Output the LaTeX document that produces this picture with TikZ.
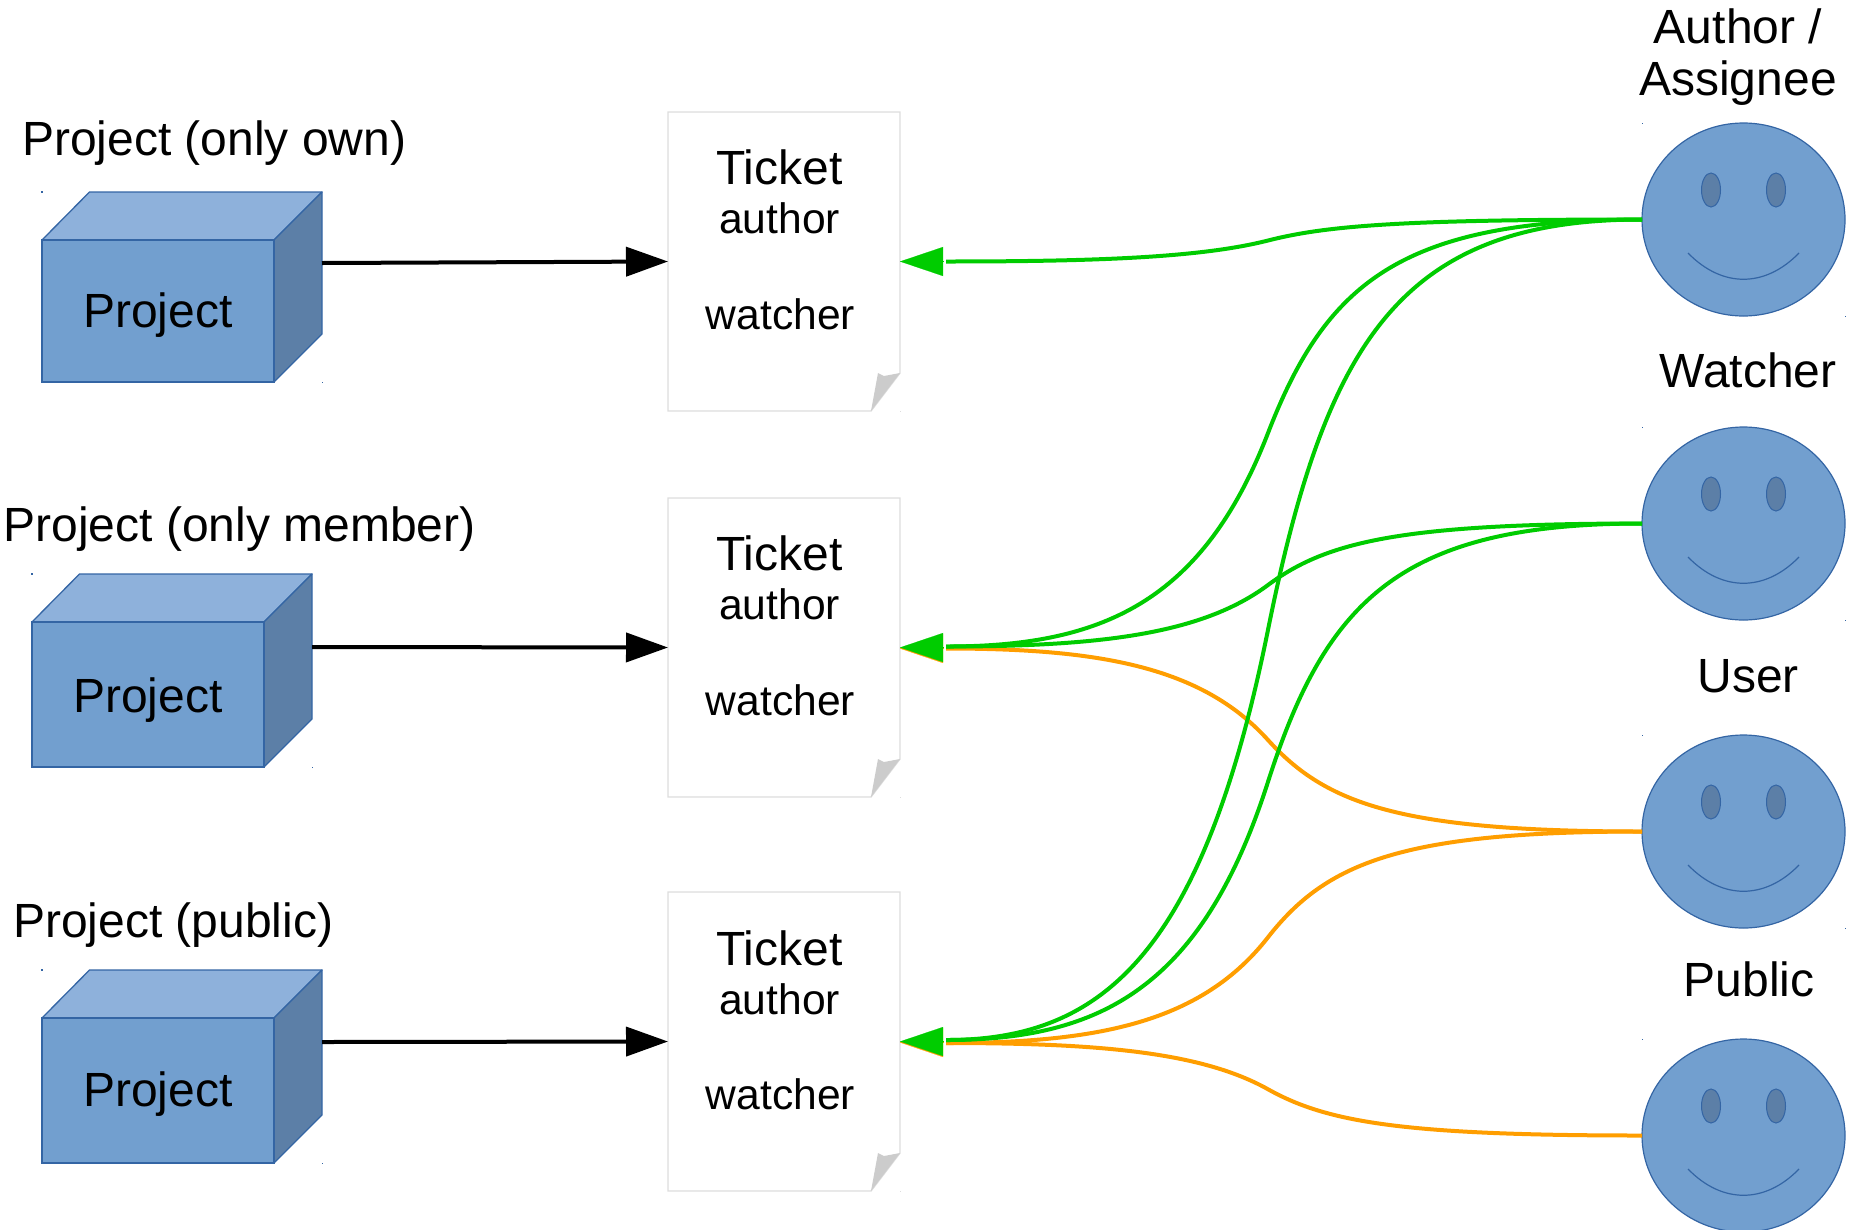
\documentclass[tikz,border=0pt]{standalone}
\usepackage{fontspec}
\setmainfont{Liberation Sans}
\usetikzlibrary{arrows.meta,calc,shapes.geometric}
\definecolor{boxblue}{HTML}{729FCF}
\definecolor{boxtop}{HTML}{8EB1DB}
\definecolor{boxside}{HTML}{5C7FA7}
\definecolor{edgeblue}{HTML}{3465A4}
\definecolor{linkgreen}{HTML}{00CC00}
\definecolor{linkorange}{HTML}{FF9E00}
\definecolor{pageedge}{HTML}{DDDDDD}
\definecolor{foldgray}{HTML}{CCCCCC}
\tikzset{
  big/.style={font=\fontsize{48}{52}\selectfont,inner sep=0pt,outer sep=0pt,text=black},
  small/.style={font=\fontsize{42.6}{46}\selectfont,inner sep=0pt,outer sep=0pt,text=black},
  front/.style={draw=edgeblue,line width=1.3pt,fill=boxblue,inner sep=0pt,outer sep=0pt},
  topface/.style={draw=edgeblue,line width=1.3pt,fill=boxtop,line join=round},
  sideface/.style={draw=edgeblue,line width=1.3pt,fill=boxside,line join=round},
  tick/.style={draw=none,minimum width=232pt,minimum height=299pt,inner sep=0pt,outer sep=0pt},
  page/.style={draw=pageedge,line width=1.4pt,fill=white,line join=miter},
  fold/.style={fill=foldgray},
  face/.style={ellipse,draw=edgeblue,line width=1.2pt,fill=boxblue,minimum width=203pt,minimum height=193pt,inner sep=0pt,outer sep=0pt},
  eye/.style={ellipse,draw=edgeblue,line width=1pt,fill=boxside,minimum width=19pt,minimum height=34pt,inner sep=0pt,outer sep=0pt},
  smile/.style={draw=edgeblue,line width=1.2pt},
  speck/.style={fill=edgeblue},
  flow/.style={draw=black,line width=4pt,-{Triangle[length=42pt,width=29pt]}},
  grn/.style={draw=linkgreen,line width=4pt},
  org/.style={draw=linkorange,line width=4pt},
  ghead/.style={draw=linkgreen,line width=0.1pt,-{Triangle[length=43pt,width=29pt]}},
  ohead/.style={draw=linkorange,line width=0.1pt,-{Triangle[length=43pt,width=29pt]}},
  link/.style args={#1 to #2}{insert path={
    let \p1=(#1),\p2=(#2),\p3=(midline),\n1={0.5*(\y1+\y2)} in
    (\p1) .. controls ({\x1-0.647*(\x1-\x3)},\y1) and ({\x3+0.155*(\x1-\x3)},{\n1+0.7*(\y1-\n1)}) ..
    (\x3,\n1) .. controls ({\x3-0.205*(\x3-\x2)},{\n1+0.8*(\y2-\n1)}) and ({\x2+0.478*(\x3-\x2)},\y2) .. (\p2)}},
}
\begin{document}
\begin{tikzpicture}[x=1pt,y=-1pt]
\useasboundingbox (0,0) rectangle (1854,1229);
\coordinate (midline) at (1268,0);

% projects
\foreach \n/\l/\t/\b/\lab/\lx/\ly/\py/\oy in {
  1/42/192/382/{Project (only own)}/22/155/327/263,
  2/32/574/767/{Project (only member)}/3.5/541/712/647,
  3/42/970/1163/{Project (public)}/13/937/1106.5/1042}{
  \fill[speck] (\l-1,\t-1) rectangle (\l+0.5,\t+0.5);
  \fill[speck] (\l+279.5,\b-0.5) rectangle (\l+281,\b+1);
  \draw[topface] (\l,\t+48) -- (\l+47.5,\t) -- (\l+280,\t) -- (\l+232,\t+48) -- cycle;
  \draw[sideface] (\l+232,\t+48) -- (\l+280,\t) -- (\l+280,\b-48) -- (\l+232,\b) -- cycle;
  \node[front,minimum width=232pt,minimum height={\b-\t-48},anchor=north west] (p\n) at (\l,\t+48) {};
  \node[big,anchor=base] (pt\n) at (\l+116,\py) {Project};
  \node[big,anchor=base west] (pl\n) at (\lx,\ly) {\lab};
  \coordinate (po\n) at (\l+280,\oy);
}

% tickets
\foreach \n/\t/\d in {1/112/0,2/498/0,3/892/1}{
  \node[tick] (t\n) at (784,\t+149.5) {};
  \draw[page] (668,\t) -- (900,\t) -- (900,\t+261) -- (871,\t+299) -- (668,\t+299) -- cycle;
  \fill[fold] (900,\t+261) -- (884,\t+264) -- (878,\t+261) -- (871,\t+299) -- cycle;
  \fill[pageedge] (899.5,\t+298.5) rectangle (900.5,\t+299.5);
  \node[big,anchor=base] (tt\n) at (779.5,\t+72+\d) {Ticket};
  \node[small,anchor=base] (ta\n) at (779.5,\t+121+\d) {author};
  \node[small,anchor=base] (tw\n) at (780.3,\t+217) {watcher};
}

% people
\foreach \n/\t in {1/123,2/427,3/735,4/1039}{
  \fill[speck] (1641.5,\t-0.5) rectangle (1643,\t+0.5);
  \fill[speck] (1844.5,\t+192.5) rectangle (1846,\t+193.5);
  \node[face] (s\n) at (1743.5,\t+96.5) {};
  \node[eye] (el\n) at (1711,\t+67) {};
  \node[eye] (er\n) at (1776,\t+67) {};
  \draw[smile] (1688,\t+130) .. controls (1722,\t+165) and (1765,\t+165) .. (1799,\t+130);
}
\node[big,align=center] (n1) at (1738,57) {Author /\\Assignee};
\node[big,anchor=base] (n2) at (1748,387) {Watcher};
\node[big,anchor=base] (n3) at (1748,692) {User};
\node[big,anchor=base] (n4) at (1749,996) {Public};

% project to ticket
\draw[flow] (po1) -- (t1.west);
\draw[flow] (po2) -- (t2.west);
\draw[flow] (po3) -- (t3.west);

% ends of the links
\coordinate (b1) at ($(t1.east)+(43,0)$);
\coordinate (b2) at ($(t2.east)+(43,0)$);
\coordinate (b3) at ($(t3.east)+(43,0)$);
\coordinate (g1) at ($(t1.east)+(46,0)$);
\coordinate (g2) at ($(t2.east)+(46,-1)$);
\coordinate (g3) at ($(t3.east)+(46,-1.5)$);
\coordinate (o2) at ($(t2.east)+(46,1)$);
\coordinate (o3) at ($(t3.east)+(46,1.5)$);
\coordinate (h2) at ($(t2.east)+(0,1)$);
\coordinate (h3) at ($(t3.east)+(0,1)$);
\coordinate (hb2) at ($(b2)+(0,1)$);
\coordinate (hb3) at ($(b3)+(0,1)$);

% orange links
\draw[org,link={s3.west to o2}];
\draw[org,link={s3.west to o3}];
\draw[org,link={s4.west to o3}];
\draw[ohead] (hb2) -- (h2);
\draw[ohead] (hb3) -- (h3);

% green links
\draw[grn,link={s1.west to g1}];
\draw[grn,link={s1.west to g2}];
\draw[grn,link={s1.west to g3}];
\draw[grn,link={s2.west to g2}];
\draw[grn,link={s2.west to g3}];
\draw[ghead] (b1) -- (t1.east);
\draw[ghead] (b2) -- (t2.east);
\draw[ghead] (b3) -- (t3.east);
\end{tikzpicture}
\end{document}
